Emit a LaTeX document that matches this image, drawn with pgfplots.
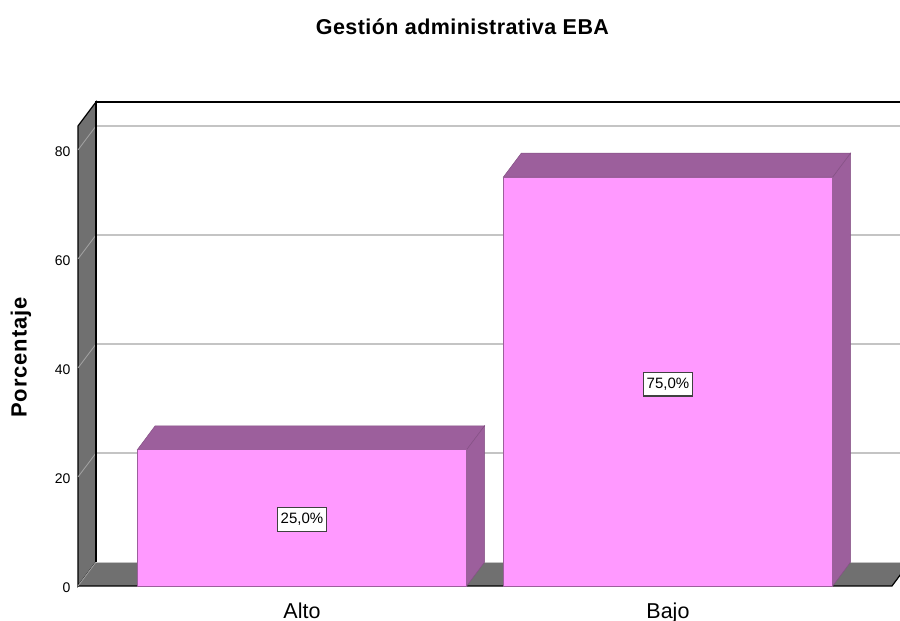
\documentclass[border=0pt]{standalone}
\usepackage{pgfplots}
\pgfplotsset{compat=1.18}
\usepackage{fontspec}
\setmainfont{Liberation Sans}
\definecolor{wallc}{HTML}{707070}
\definecolor{barf}{HTML}{FF99FF}
\definecolor{bard}{HTML}{9C5F9C}
\definecolor{gridc}{HTML}{C4C4C4}
\definecolor{gridw}{HTML}{A4A4A4}
\begin{document}
\begin{tikzpicture}[x=1pt,y=1pt]
\path[use as bounding box] (0,0) rectangle (900,621);
\begin{axis}[
  at={(78pt,35pt)}, anchor=south west,
  scale only axis, width=822pt, height=484pt,
  xmin=-0.612, xmax=1.634, ymin=0, ymax=88.8,
  clip=false,
  axis line style={draw=none},
  major tick length=0pt,
  xtick={0,1}, xticklabels={Alto,Bajo},
  ytick={0,20,40,60,80},
  /pgf/number format/assume math mode=true,
  x tick label style={font=\fontsize{21.5}{24}\selectfont, yshift=-13pt},
  y tick label style={font=\fontsize{14}{16}\selectfont, xshift=-4pt, yshift=-1.5pt},
  title={\addfontfeature{LetterSpace=2}\textbf{Gestión administrativa EBA}},
  title style={at={(axis description cs:0.468,1.143)},anchor=center,font=\fontsize{21.5}{24}\selectfont},
  ylabel={\addfontfeature{LetterSpace=4}\textbf{Porcentaje}},
  ylabel style={at={(axis description cs:-0.0693,0.473)},anchor=center,font=\fontsize{22}{24}\selectfont},
]
% left wall
\addplot[fill=wallc,draw=black,line width=1.2pt] coordinates {(-0.612,0)(-0.5628,4.4)(-0.5628,88.8)(-0.612,84.4)} -- cycle;
% floor
\addplot[fill=wallc,draw=none] coordinates {(-0.612,0)(-0.5628,4.4)(1.661,4.4)(1.612,0)} -- cycle;
\addplot[black,line width=1.2pt] coordinates {(-0.612,0)(1.612,0)(1.661,4.4)};
% gridlines on the wall and at the back
\addplot[gridw,line width=0.8pt] coordinates {(-0.612,0)(-0.5628,4.4)};
\addplot[gridw,line width=0.8pt] coordinates {(-0.612,20)(-0.5628,24.4)};
\addplot[gridw,line width=0.8pt] coordinates {(-0.612,40)(-0.5628,44.4)};
\addplot[gridw,line width=0.8pt] coordinates {(-0.612,60)(-0.5628,64.4)};
\addplot[gridw,line width=0.8pt] coordinates {(-0.612,80)(-0.5628,84.4)};
\addplot[gridc,line width=1.4pt] coordinates {(-0.5628,24.4)(1.661,24.4)};
\addplot[gridc,line width=1.4pt] coordinates {(-0.5628,44.4)(1.661,44.4)};
\addplot[gridc,line width=1.4pt] coordinates {(-0.5628,64.4)(1.661,64.4)};
\addplot[gridc,line width=1.4pt] coordinates {(-0.5628,84.4)(1.661,84.4)};
% back frame
\addplot[black,line width=1.8pt] coordinates {(-0.5628,4.4)(-0.5628,88.8)(1.661,88.8)};
\addplot[gridc,line width=0.8pt] coordinates {(-0.5628,4.4)(1.661,4.4)};
% bar depth: tops and sides
\addplot[fill=bard,draw=bard!85!black,line width=0.5pt] coordinates {(-0.45,25)(-0.401,29.4)(0.499,29.4)(0.45,25)} -- cycle;
\addplot[fill=bard,draw=bard!85!black,line width=0.5pt] coordinates {(0.45,0)(0.499,4.4)(0.499,29.4)(0.45,25)} -- cycle;
\addplot[fill=bard,draw=bard!85!black,line width=0.5pt] coordinates {(0.55,75)(0.599,79.4)(1.499,79.4)(1.45,75)} -- cycle;
\addplot[fill=bard,draw=bard!85!black,line width=0.5pt] coordinates {(1.45,0)(1.499,4.4)(1.499,79.4)(1.45,75)} -- cycle;
% front faces
\addplot[ybar,bar width=0.9,bar shift=0pt,fill=barf,draw=bard,line width=0.6pt] coordinates {(0,25)(1,75)};
% value labels
\addplot[draw=none,mark=none,point meta=explicit symbolic,
  nodes near coords,
  nodes near coords style={anchor=center,fill=white,draw=black!75,line width=1.2pt,inner xsep=3.5pt,inner ysep=5.5pt,font=\fontsize{15}{17}\selectfont}]
  coordinates {(0,12.2)[25,0\%] (1,37.0)[75,0\%]};
\end{axis}
\end{tikzpicture}
\end{document}
